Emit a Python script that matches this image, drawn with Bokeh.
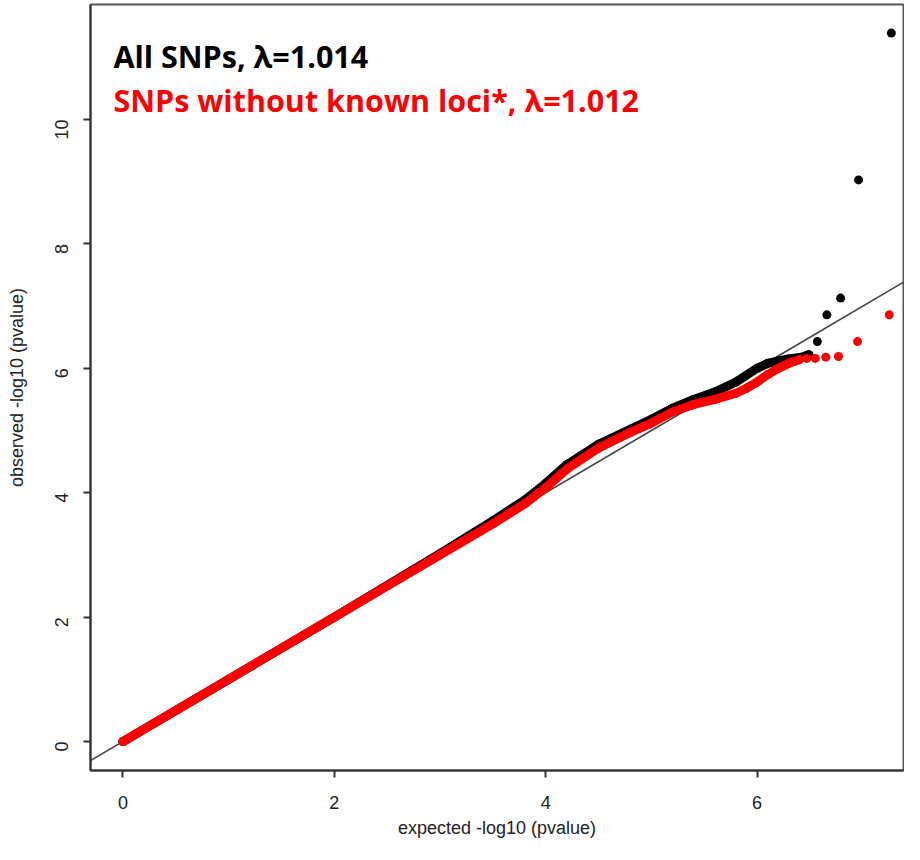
import math
from bokeh.plotting import figure
from bokeh.models import Range1d, FixedTicker, Slope, Label, ColumnDataSource
from bokeh.embed import file_html
from bokeh.resources import INLINE

# ---- data (expected -log10 p, observed -log10 p) ----
# dense part of the curve (overlapping points) - all SNPs
all_dense_exp = [0.0, 1.0, 2.0, 3.0, 3.5, 3.8, 4.0, 4.2, 4.5, 4.8, 5.0, 5.2, 5.4, 5.6, 5.8, 6.0, 6.1, 6.2, 6.3, 6.42, 6.49]
all_dense_obs = [0.0, 1.0, 2.0, 3.02, 3.55, 3.88, 4.15, 4.45, 4.78, 5.02, 5.18, 5.36, 5.5, 5.62, 5.78, 6.0, 6.08, 6.12, 6.15, 6.18, 6.22]
# isolated top points - all SNPs
all_top_exp = [6.57, 6.66, 6.79, 6.96, 7.27]
all_top_obs = [6.43, 6.86, 7.13, 9.03, 11.39]

# dense part - SNPs without known loci
nok_dense_exp = [0.0, 1.0, 2.0, 3.0, 3.5, 3.8, 4.0, 4.2, 4.5, 4.8, 5.0, 5.2, 5.4, 5.6, 5.8, 5.9, 6.0, 6.1, 6.2, 6.3, 6.4]
nok_dense_obs = [0.0, 1.0, 2.0, 3.0, 3.5, 3.82, 4.08, 4.38, 4.72, 4.97, 5.12, 5.3, 5.42, 5.5, 5.6, 5.68, 5.78, 5.9, 6.0, 6.08, 6.14]
# isolated top points - SNPs without known loci
nok_top_exp = [6.47, 6.55, 6.65, 6.77, 6.95, 7.25]
nok_top_obs = [6.16, 6.16, 6.18, 6.19, 6.43, 6.86]

x_ticks = [0, 2, 4, 6]
y_ticks = [0, 2, 4, 6, 8, 10]

label_all = "All SNPs, \u03bb=1.014"
label_nok = "SNPs without known loci*, \u03bb=1.012"
x_title = "expected -log10 (pvalue)"
y_title = "observed -log10 (pvalue)"

RED = "#FF0000"
BLACK = "#000000"

p = figure(frame_width=813, frame_height=766,
           min_border_left=90, min_border_right=1, min_border_top=4, min_border_bottom=74,
           x_range=Range1d(-0.307, 7.385), y_range=Range1d(-0.466, 11.85),
           output_backend="svg", toolbar_location=None,
           background_fill_color="white", border_fill_color="white")
p.grid.visible = False
p.outline_line_color = "#555555"
p.outline_line_width = 2

for ax in (p.xaxis[0], p.yaxis[0]):
    ax.axis_line_color = "#333333"
    ax.axis_line_width = 2
    ax.major_tick_line_color = "#333333"
    ax.major_tick_line_width = 2
    ax.major_tick_out = 7
    ax.major_tick_in = 0
    ax.minor_tick_line_color = None
    ax.major_label_text_font = "Liberation Sans"
    ax.major_label_text_font_size = "18px"
    ax.major_label_text_color = "#222222"
    ax.axis_label_text_font = "Liberation Sans"
    ax.axis_label_text_font_size = "18px"
    ax.axis_label_text_font_style = "normal"
    ax.axis_label_text_color = "#222222"

p.xaxis.ticker = FixedTicker(ticks=x_ticks)
p.yaxis.ticker = FixedTicker(ticks=y_ticks)
p.xaxis.axis_label = x_title
p.yaxis.axis_label = y_title
p.xaxis.major_label_standoff = 18
p.xaxis.axis_label_standoff = 6
p.yaxis.major_label_orientation = math.pi / 2
p.yaxis.major_label_standoff = 22
p.yaxis.axis_label_standoff = 19

# reference line y = x
p.add_layout(Slope(gradient=1, y_intercept=0, line_color="#444444", line_width=1.6, level="underlay"))

# all SNPs (black) first, then without known loci (red) on top
src_all = ColumnDataSource(dict(x=all_dense_exp, y=all_dense_obs))
p.line("x", "y", source=src_all, line_color=BLACK, line_width=9, line_cap="round", line_join="round")
p.scatter("x", "y", source=src_all, size=9, fill_color=BLACK, line_color=None)
p.scatter(all_top_exp, all_top_obs, size=9, fill_color=BLACK, line_color=None)

src_nok = ColumnDataSource(dict(x=nok_dense_exp, y=nok_dense_obs))
p.line("x", "y", source=src_nok, line_color=RED, line_width=9, line_cap="round", line_join="round")
p.scatter("x", "y", source=src_nok, size=9, fill_color=RED, line_color=None)
p.scatter(nok_top_exp, nok_top_obs, size=9, fill_color=RED, line_color=None)

# annotations
p.add_layout(Label(x=-0.09, y=11.03, text=label_all, text_font="Open Sans", text_font_style="bold",
                   text_font_size="30.5px", text_color=BLACK, text_baseline="alphabetic"))
p.add_layout(Label(x=-0.09, y=10.31, text=label_nok, text_font="Open Sans", text_font_style="bold",
                   text_font_size="30.5px", text_color=RED, text_baseline="alphabetic"))

open("out.html", "w").write(file_html(p, INLINE))
